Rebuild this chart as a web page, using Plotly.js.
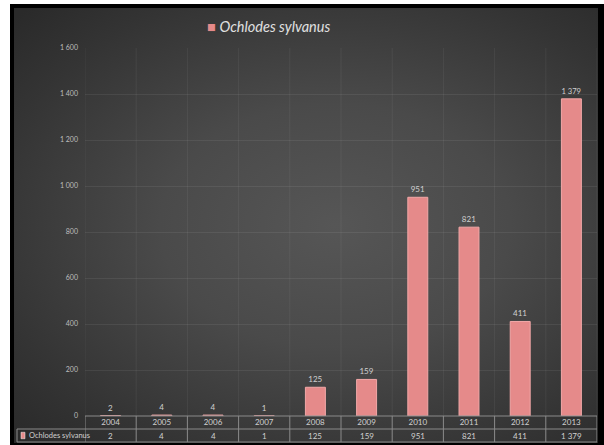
<!DOCTYPE html>
<html>
<head>
<meta charset="utf-8">
<script src="https://cdn.plot.ly/plotly-3.0.1.min.js"></script>
<style>
  html, body { margin:0; padding:0; background:#ffffff; }
  #wrap { position:relative; width:604px; height:445px; overflow:hidden; }
  #frame { position:absolute; left:10px; top:4px; width:594px; height:441px; background:#000; }
  #bg { position:absolute; left:14px; top:8px; width:584px; height:435px;
        background: radial-gradient(ellipse 75% 70% at 55% 50%, #565656 0%, #4a4a4a 40%, #343434 80%, #2a2a2a 100%); }
  #chart { position:absolute; left:0; top:0; width:604px; height:445px; }
</style>
</head>
<body>
<div id="wrap">
  <div id="frame"></div>
  <div id="bg"></div>
  <div id="chart"></div>
</div>
<script>
const years = ['2004','2005','2006','2007','2008','2009','2010','2011','2012','2013'];
const counts = [2, 4, 4, 1, 125, 159, 951, 821, 411, 1379];
const seriesName = 'Ochlodes sylvanus';
const yTicks = [0, 200, 400, 600, 800, 1000, 1200, 1400, 1600];

const fmt = v => String(v).replace(/\B(?=(\d{3})+(?!\d))/g, ' ');

const n = years.length;
const xIdx = years.map((_, i) => i);

const trace = {
  type: 'bar',
  x: xIdx,
  y: counts,
  marker: { color: '#e58a8a', line: { color: '#f2a8a8', width: 1 } },
  text: counts.map(fmt),
  textposition: 'outside',
  textfont: { family: 'Lato, "Open Sans", sans-serif', size: 8, color: '#d0d0d0' },
  cliponaxis: false,
  hoverinfo: 'skip',
  showlegend: false
};

// plot area spans y 48..416 px => height 368, x 85..597 => width 512
const plotH = 368;
const plotW = 512;
const rowH = 13 / plotH;
const leftCol = -68 / plotW;
const tableLine = '#8a8a8a';
const shapes = [];
// horizontal table lines
shapes.push({ type: 'line', xref: 'paper', yref: 'paper', x0: 0, x1: 1, y0: 0, y1: 0,
  line: { color: tableLine, width: 1 } });
[-rowH, -2 * rowH].forEach(yv => {
  shapes.push({ type: 'line', xref: 'paper', yref: 'paper', x0: leftCol, x1: 1, y0: yv, y1: yv,
    line: { color: tableLine, width: 1 } });
});
// vertical table lines
for (let i = 0; i <= n; i++) {
  shapes.push({ type: 'line', xref: 'x', yref: 'paper', x0: i - 0.5, x1: i - 0.5, y0: 0, y1: -2 * rowH,
    line: { color: tableLine, width: 1 } });
}
// left border of table label column
shapes.push({ type: 'line', xref: 'paper', yref: 'paper', x0: leftCol, x1: leftCol, y0: -rowH, y1: -2 * rowH,
  line: { color: tableLine, width: 1 } });
// faint vertical gridlines at category boundaries
for (let i = 0; i <= n; i++) {
  shapes.push({ type: 'line', xref: 'x', yref: 'paper', x0: i - 0.5, x1: i - 0.5, y0: 0, y1: 1,
    line: { color: 'rgba(255,255,255,0.06)', width: 1 }, layer: 'below' });
}
// legend key in table
shapes.push({ type: 'rect', xref: 'paper', yref: 'paper',
  x0: -64 / plotW, x1: -60 / plotW, y0: -1.25 * rowH, y1: -1.75 * rowH,
  fillcolor: '#e58a8a', line: { color: '#f0f0f0', width: 0.5 } });

const annotations = [];
counts.forEach((v, i) => {
  annotations.push({ x: i, xref: 'x', y: -1.5 * rowH, yref: 'paper', text: fmt(v), showarrow: false,
    font: { family: 'Lato, "Open Sans", sans-serif', size: 8, color: '#d0d0d0' }, xanchor: 'center', yanchor: 'middle' });
});
annotations.push({ x: -58 / plotW, xref: 'paper', y: -1.5 * rowH, yref: 'paper', text: seriesName, showarrow: false,
  font: { family: 'Lato, "Open Sans", sans-serif', size: 7.5, color: '#d0d0d0' }, xanchor: 'left', yanchor: 'middle' });
// chart title with series marker
annotations.push({ x: (268 - 85) / plotW, xref: 'paper', y: 1 + (48 - 26) / plotH, yref: 'paper',
  yanchor: 'middle', xanchor: 'center',
  text: '<span style="color:#e58a8a">■</span> <i>' + seriesName + '</i>', showarrow: false,
  font: { family: 'Lato, "Open Sans", sans-serif', size: 14.5, color: '#e0e0e0' } });

const layout = {
  width: 604, height: 445,
  margin: { l: 85, r: 7, t: 48, b: 29 },
  paper_bgcolor: 'rgba(0,0,0,0)',
  plot_bgcolor: 'rgba(0,0,0,0)',
  separators: '. ',
  bargap: 0.61,
  xaxis: {
    range: [-0.5, n - 0.5],
    tickvals: xIdx, ticktext: years,
    showgrid: false, zeroline: false, showline: false,
    ticks: '', ticklen: 0,
    tickfont: { family: 'Lato, "Open Sans", sans-serif', size: 8, color: '#d0d0d0' },
    ticklabelstandoff: 0
  },
  yaxis: {
    range: [0, 1600],
    tickvals: yTicks, ticktext: yTicks.map(fmt),
    showgrid: true, gridcolor: 'rgba(255,255,255,0.07)', gridwidth: 1,
    zeroline: false, showline: false, ticks: '',
    tickfont: { family: 'Lato, "Open Sans", sans-serif', size: 7, color: '#bdbdbd' },
    ticklabelstandoff: 6
  },
  shapes: shapes,
  annotations: annotations
};

Plotly.newPlot('chart', [trace], layout, { staticPlot: true, displayModeBar: false });
</script>
</body>
</html>
